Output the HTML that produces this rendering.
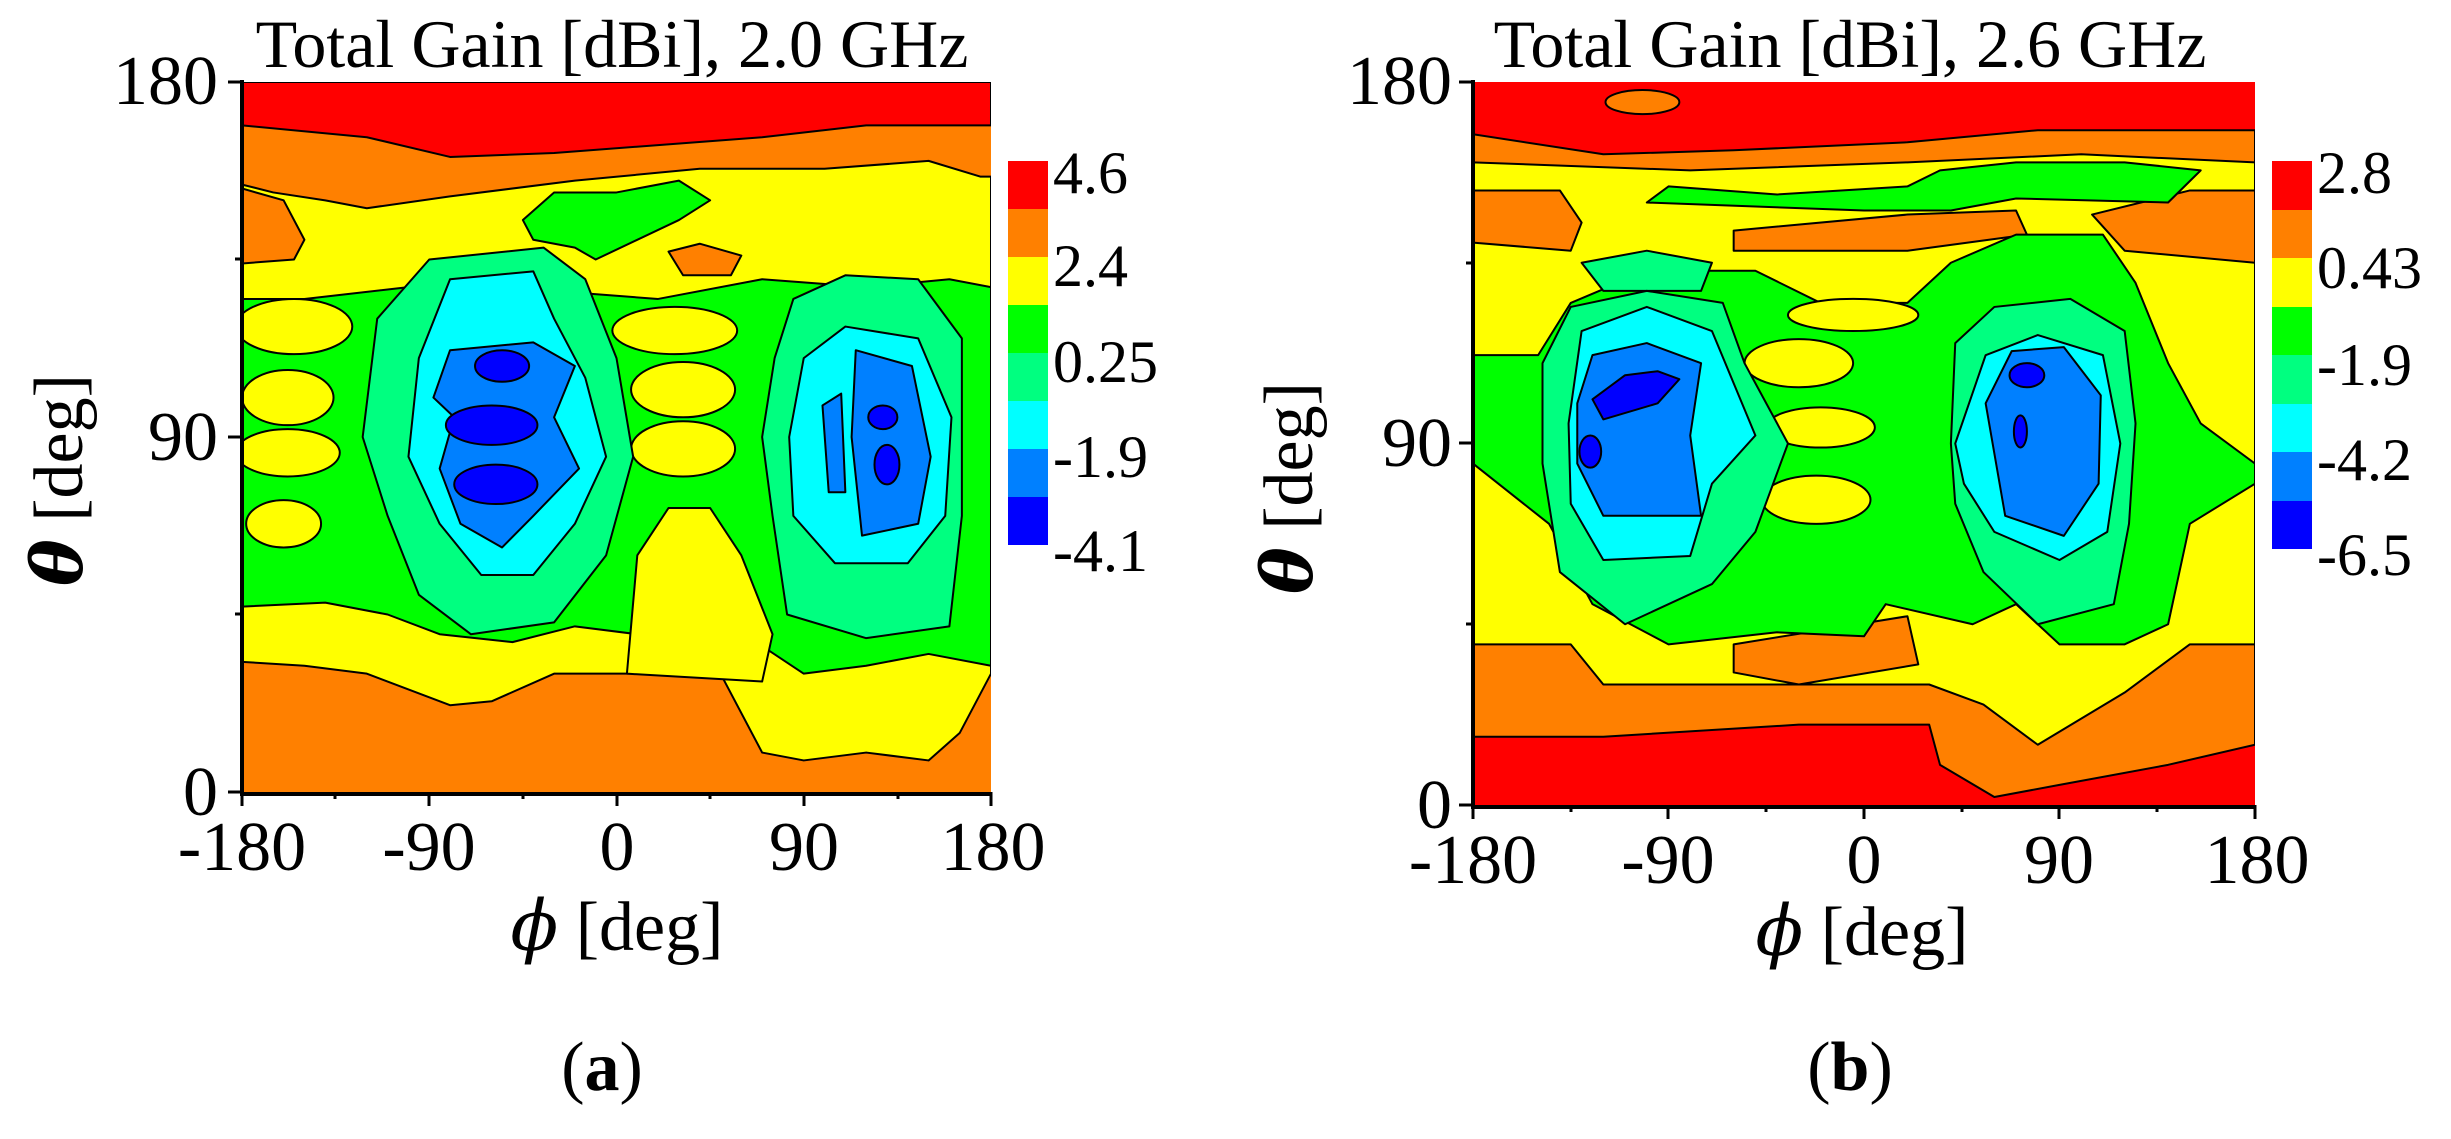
<!DOCTYPE html>
<html><head><meta charset="utf-8"><style>
html,body{margin:0;padding:0;background:#fff;}
svg{display:block;}
text{font-family:"Liberation Serif",serif;fill:#000;}
.g{font-family:"DejaVu Serif","Liberation Serif",serif;}
.c path,.c ellipse,.c polygon{stroke:#000;stroke-width:2;vector-effect:non-scaling-stroke;stroke-linejoin:round;}
</style></head><body>
<svg width="2451" height="1139" viewBox="0 0 2451 1139" xmlns="http://www.w3.org/2000/svg">
<!-- ===== Panel A ===== -->
<svg class="c" x="242" y="82" width="749" height="710" viewBox="0 0 360 180" preserveAspectRatio="none">
<rect x="0" y="0" width="360" height="180" fill="#FF8000"/>
<polygon fill="#FF0000" points="0,0 360,0 360,11 300,11 250,14 200,16 150,18 100,19 60,14 0,11"/>
<polygon fill="#FFFF00" points="0,26 15,28 40,30 60,32 100,29 160,25 220,22 280,22 330,20 355,24 360,24 360,150 345,165 330,172 300,170 270,172 250,170 230,150 210,148 190,150 150,150 120,157 100,158 60,150 30,148 0,147"/>
<polygon fill="#FF8000" points="0,27 20,30 30,40 25,45 0,46"/>
<polygon fill="#FF8000" points="205,43 220,41 240,44 235,49 212,49"/>
<polygon fill="#00FF00" points="135,35 150,28 180,28 210,25 225,30 210,35 170,45 160,42 140,40"/>
<polygon fill="#00FF00" points="0,55 30,55 80,52 120,52 150,53 200,55 250,50 300,52 340,50 360,52 360,148 330,145 300,148 270,150 250,143 210,140 190,140 160,138 130,142 95,140 70,135 40,132 0,133"/>
<ellipse fill="#FFFF00" cx="25" cy="62" rx="28" ry="7"/>
<ellipse fill="#FFFF00" cx="22" cy="80" rx="22" ry="7"/>
<ellipse fill="#FFFF00" cx="22" cy="94" rx="25" ry="6"/>
<ellipse fill="#FFFF00" cx="20" cy="112" rx="18" ry="6"/>
<ellipse fill="#FFFF00" cx="208" cy="63" rx="30" ry="6"/>
<ellipse fill="#FFFF00" cx="212" cy="78" rx="25" ry="7"/>
<ellipse fill="#FFFF00" cx="212" cy="93" rx="25" ry="7"/>
<polygon fill="#FFFF00" points="185,150 190,120 205,108 225,108 240,120 255,140 250,152"/>
<polygon fill="#00FF80" points="65,60 90,45 145,42 165,50 180,70 188,95 175,120 150,137 110,140 85,130 70,110 58,90"/>
<polygon fill="#00FF80" points="256,70 265,55 290,49 325,50 346,65 346,110 340,138 300,141 262,135 255,110 250,90"/>
<polygon fill="#00FFFF" points="100,50 140,48 150,60 165,75 175,95 160,112 140,125 115,125 95,112 80,95 85,70"/>
<polygon fill="#00FFFF" points="270,70 290,62 325,65 341,85 338,110 320,122 285,122 265,110 263,90"/>
<polygon fill="#0080FF" points="100,68 140,66 160,72 150,85 162,98 140,110 125,118 105,112 95,98 102,85 92,80"/>
<polygon fill="#0080FF" points="295,68 322,72 331,95 325,112 298,115 293,90"/>
<polygon fill="#0080FF" points="279,82 288,79 290,104 282,104"/>
<ellipse fill="#0000FF" cx="125" cy="72" rx="13" ry="4"/>
<ellipse fill="#0000FF" cx="120" cy="87" rx="22" ry="5"/>
<ellipse fill="#0000FF" cx="122" cy="102" rx="20" ry="5"/>
<ellipse fill="#0000FF" cx="308" cy="85" rx="7" ry="3"/>
<ellipse fill="#0000FF" cx="310" cy="97" rx="6" ry="5"/>
</svg>
<g stroke="#000" fill="none">
<path d="M242,80 V794 H991" stroke-width="4"/>
<path d="M242,792 v14 M429,792 v14 M617,792 v14 M804,792 v14 M991,792 v14 M335,792 v7 M523,792 v7 M710,792 v7 M898,792 v7" stroke-width="3"/>
<path d="M242,82 h-14 M242,437 h-14 M242,792 h-14 M242,259 h-7 M242,614 h-7" stroke-width="3"/>
</g>
<text x="612" y="67" font-size="68" text-anchor="middle">Total Gain [dBi], 2.0 GHz</text>
<g font-size="70" text-anchor="end"><text x="218" y="104">180</text><text x="218" y="460">90</text><text x="218" y="815">0</text></g>
<g font-size="70" text-anchor="middle"><text x="242" y="870">-180</text><text x="429" y="870">-90</text><text x="617" y="870">0</text><text x="804" y="870">90</text><text x="993" y="870">180</text></g>
<text x="617" y="950" font-size="70" text-anchor="middle"><tspan class="g" font-style="italic">ϕ</tspan> [deg]</text>
<text transform="translate(82,480) rotate(-90)" font-size="70" text-anchor="middle"><tspan class="g" font-style="italic" font-weight="bold">θ</tspan> [deg]</text>
<text x="602" y="1090" font-size="70" text-anchor="middle">(<tspan font-weight="bold">a</tspan>)</text>
<g>
<rect x="1008" y="161" width="40" height="48" fill="#FF0000"/>
<rect x="1008" y="209" width="40" height="48" fill="#FF8000"/>
<rect x="1008" y="257" width="40" height="48" fill="#FFFF00"/>
<rect x="1008" y="305" width="40" height="48" fill="#00FF00"/>
<rect x="1008" y="353" width="40" height="48" fill="#00FF80"/>
<rect x="1008" y="401" width="40" height="48" fill="#00FFFF"/>
<rect x="1008" y="449" width="40" height="48" fill="#0080FF"/>
<rect x="1008" y="497" width="40" height="48" fill="#0000FF"/>
</g>
<g font-size="60"><text x="1053" y="193">4.6</text><text x="1053" y="286">2.4</text><text x="1053" y="382">0.25</text><text x="1053" y="477">-1.9</text><text x="1053" y="571">-4.1</text></g>

<!-- ===== Panel B ===== -->
<svg class="c" x="1473" y="82" width="782" height="723" viewBox="0 0 360 180" preserveAspectRatio="none">
<rect x="0" y="0" width="360" height="180" fill="#FF0000"/>
<polygon fill="#FF8000" points="0,13 60,18 120,17 200,15 260,12 360,12 360,165 320,170 270,175 240,178 215,170 210,160 150,160 60,163 0,163"/>
<ellipse fill="#FF8000" cx="78" cy="5" rx="17" ry="3"/>
<polygon fill="#FFFF00" points="0,20 100,22 200,20 280,18 360,20 360,140 330,140 300,152 260,165 235,155 210,150 150,150 60,150 45,140 0,140"/>
<polygon fill="#FF8000" points="0,27 40,27 50,35 45,42 0,40"/>
<polygon fill="#FF8000" points="120,37 200,33 250,32 255,38 200,42 120,42"/>
<polygon fill="#FF8000" points="285,33 330,27 360,27 360,45 300,42"/>
<polygon fill="#FF8000" points="120,140 200,133 205,145 150,150 120,147"/>
<polygon fill="#00FF00" points="80,30 90,26 140,28 200,26 215,22 250,20 300,20 335,22 320,30 250,29 220,32 180,32"/>
<polygon fill="#00FF00" points="0,68 30,68 45,55 80,47 130,47 160,55 200,55 220,45 250,38 290,38 305,50 320,70 335,85 360,95 360,100 330,110 320,135 300,140 270,140 250,130 230,135 190,130 180,138 140,137 90,140 55,130 35,110 0,95"/>
<ellipse fill="#FFFF00" cx="150" cy="70" rx="25" ry="6"/>
<ellipse fill="#FFFF00" cx="160" cy="86" rx="25" ry="5"/>
<ellipse fill="#FFFF00" cx="158" cy="104" rx="25" ry="6"/>
<ellipse fill="#FFFF00" cx="175" cy="58" rx="30" ry="4"/>
<polygon fill="#00FF80" points="50,45 80,42 110,45 105,52 60,52"/>
<polygon fill="#00FF80" points="32,95 32,70 45,56 80,52 115,55 125,70 145,90 130,112 110,125 70,135 40,122"/>
<polygon fill="#00FF80" points="220,90 222,65 240,56 275,54 300,62 305,85 302,110 295,130 260,135 235,122 222,105"/>
<polygon fill="#00FFFF" points="44,85 50,62 80,56 110,62 130,88 110,100 100,118 60,119 45,105"/>
<polygon fill="#00FFFF" points="222,90 236,68 260,63 290,68 298,90 292,112 270,119 240,112 226,100"/>
<polygon fill="#0080FF" points="48,80 55,68 80,65 105,70 100,88 105,108 60,108 48,95"/>
<polygon fill="#0080FF" points="236,80 248,67 272,66 289,78 288,100 272,113 245,108"/>
<polygon fill="#0000FF" points="55,79 70,73 85,72 95,74 85,80 60,84"/>
<ellipse fill="#0000FF" cx="54" cy="92" rx="5" ry="4"/>
<ellipse fill="#0000FF" cx="255" cy="73" rx="8" ry="3"/>
<ellipse fill="#0000FF" cx="252" cy="87" rx="3" ry="4"/>
</svg>
<g stroke="#000" fill="none">
<path d="M1473,80 V807 H2255" stroke-width="4"/>
<path d="M1473,805 v14 M1668,805 v14 M1864,805 v14 M2059,805 v14 M2255,805 v14 M1571,805 v7 M1766,805 v7 M1962,805 v7 M2157,805 v7" stroke-width="3"/>
<path d="M1473,82 h-14 M1473,443 h-14 M1473,805 h-14 M1473,263 h-7 M1473,624 h-7" stroke-width="3"/>
</g>
<text x="1850" y="67" font-size="68" text-anchor="middle">Total Gain [dBi], 2.6 GHz</text>
<g font-size="70" text-anchor="end"><text x="1452" y="104">180</text><text x="1452" y="466">90</text><text x="1452" y="828">0</text></g>
<g font-size="70" text-anchor="middle"><text x="1473" y="883">-180</text><text x="1668" y="883">-90</text><text x="1864" y="883">0</text><text x="2059" y="883">90</text><text x="2257" y="883">180</text></g>
<text x="1862" y="955" font-size="70" text-anchor="middle"><tspan class="g" font-style="italic">ϕ</tspan> [deg]</text>
<text transform="translate(1312,488) rotate(-90)" font-size="70" text-anchor="middle"><tspan class="g" font-style="italic" font-weight="bold">θ</tspan> [deg]</text>
<text x="1850" y="1090" font-size="70" text-anchor="middle">(<tspan font-weight="bold">b</tspan>)</text>
<g>
<rect x="2272" y="161" width="40" height="49" fill="#FF0000"/>
<rect x="2272" y="210" width="40" height="48" fill="#FF8000"/>
<rect x="2272" y="258" width="40" height="49" fill="#FFFF00"/>
<rect x="2272" y="307" width="40" height="48" fill="#00FF00"/>
<rect x="2272" y="355" width="40" height="49" fill="#00FF80"/>
<rect x="2272" y="404" width="40" height="48" fill="#00FFFF"/>
<rect x="2272" y="452" width="40" height="49" fill="#0080FF"/>
<rect x="2272" y="501" width="40" height="48" fill="#0000FF"/>
</g>
<g font-size="60"><text x="2317" y="193">2.8</text><text x="2317" y="288">0.43</text><text x="2317" y="385">-1.9</text><text x="2317" y="480">-4.2</text><text x="2317" y="575">-6.5</text></g>
</svg>
</body></html>
